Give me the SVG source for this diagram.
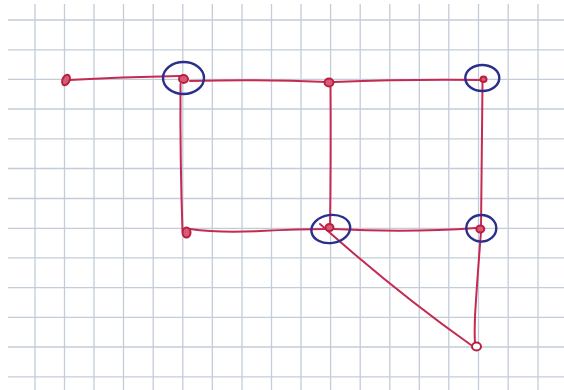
<svg xmlns="http://www.w3.org/2000/svg" width="564" height="390" viewBox="0 0 564 390">
<defs>
<style>
.grid line{stroke:#c3ccd9;stroke-width:1.3}
.edge{fill:none;stroke:#c42a52;stroke-width:2;stroke-linecap:round;stroke-linejoin:round}
.dot{fill:#d85a78;stroke:#b8203f;stroke-width:2}
.ring{fill:none;stroke:#2a2f8c;stroke-width:2.4}
</style>
</defs>
<rect width="564" height="390" fill="#ffffff"/>
<g class="grid">
<line x1="35" y1="4" x2="35" y2="390"/>
<line x1="64.5" y1="4" x2="64.5" y2="390"/>
<line x1="94" y1="4" x2="94" y2="390"/>
<line x1="123.5" y1="4" x2="123.5" y2="390"/>
<line x1="153.2" y1="4" x2="153.2" y2="390"/>
<line x1="182.8" y1="4" x2="182.8" y2="390"/>
<line x1="212.3" y1="4" x2="212.3" y2="390"/>
<line x1="242" y1="4" x2="242" y2="390"/>
<line x1="271.5" y1="4" x2="271.5" y2="390"/>
<line x1="301" y1="4" x2="301" y2="390"/>
<line x1="330.6" y1="4" x2="330.6" y2="390"/>
<line x1="360.2" y1="4" x2="360.2" y2="390"/>
<line x1="389.8" y1="4" x2="389.8" y2="390"/>
<line x1="419.3" y1="4" x2="419.3" y2="390"/>
<line x1="448.8" y1="4" x2="448.8" y2="390"/>
<line x1="478.5" y1="4" x2="478.5" y2="390"/>
<line x1="508.2" y1="4" x2="508.2" y2="390"/>
<line x1="538" y1="4" x2="538" y2="390"/>
<line x1="8" y1="20" x2="564" y2="20"/>
<line x1="8" y1="49.8" x2="564" y2="49.8"/>
<line x1="8" y1="79.4" x2="564" y2="79.4"/>
<line x1="8" y1="109" x2="564" y2="109"/>
<line x1="8" y1="138.8" x2="564" y2="138.8"/>
<line x1="8" y1="168.5" x2="564" y2="168.5"/>
<line x1="8" y1="198.5" x2="564" y2="198.5"/>
<line x1="8" y1="228.3" x2="564" y2="228.3"/>
<line x1="8" y1="257.8" x2="564" y2="257.8"/>
<line x1="8" y1="287.6" x2="564" y2="287.6"/>
<line x1="8" y1="317.3" x2="564" y2="317.3"/>
<line x1="8" y1="347" x2="564" y2="347"/>
<line x1="8" y1="376.8" x2="564" y2="376.8"/>
</g>
<g id="connectors">
<path class="edge" d="M69 80 Q120 77 180 76"/>
<path class="edge" d="M190 81 Q260 79 327 82"/>
<path class="edge" d="M334 82 Q410 79 481 80"/>
<path class="edge" d="M180.5 84 Q180 160 182.5 231"/>
<path class="edge" d="M330.5 85 Q331 160 330 228"/>
<path class="edge" d="M482.5 83 Q482 160 481 228"/>
<path class="edge" d="M190 229 Q218 233 260 231 Q300 229 327 229"/>
<path class="edge" d="M333 229 Q410 233 476 228"/>
<path class="edge" d="M320 224 Q396 292 471 345"/>
<path class="edge" d="M481 232 Q478 270 476 300 Q474 325 475 344"/>
</g>
<g id="node-a">
<ellipse class="dot" cx="66" cy="80" rx="3.5" ry="5.5" transform="rotate(25 66 80)"/>
</g>
<g id="node-b">
<ellipse class="dot" cx="183.5" cy="79" rx="4.5" ry="4"/>
<ellipse class="ring" cx="183.5" cy="78" rx="20.5" ry="16"/>
</g>
<g id="node-c">
<ellipse class="dot" cx="329" cy="82.5" rx="4.5" ry="4"/>
</g>
<g id="node-d">
<ellipse class="dot" cx="483.5" cy="79.3" rx="3" ry="2.8"/>
<ellipse class="ring" cx="482.3" cy="78" rx="17" ry="13"/>
</g>
<g id="node-e">
<ellipse class="dot" cx="186.5" cy="232.5" rx="4" ry="5" fill="#ffffff"/>
</g>
<g id="node-f">
<ellipse class="dot" cx="329.5" cy="227.5" rx="4" ry="3.5"/>
<ellipse class="ring" cx="330.8" cy="229" rx="19.5" ry="14" transform="rotate(-8 330.8 229)"/>
</g>
<g id="node-g">
<ellipse class="dot" cx="480.3" cy="229" rx="4" ry="3.5"/>
<ellipse class="ring" cx="481.3" cy="228.3" rx="15" ry="13.3"/>
</g>
<g id="node-h">
<ellipse class="dot" cx="476.5" cy="346.5" rx="4.5" ry="4" style="fill:#ffffff"/>
</g>
</svg>
